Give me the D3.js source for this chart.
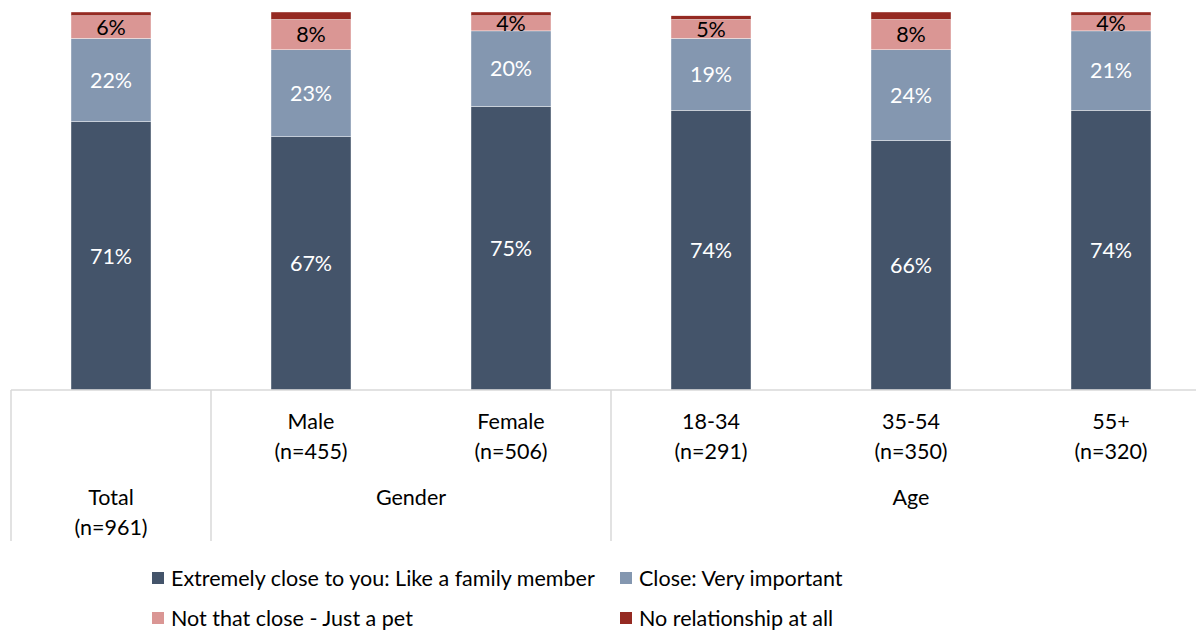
<!DOCTYPE html>
<html>
<head>
<meta charset="utf-8">
<script src="https://cdn.jsdelivr.net/npm/d3@7/dist/d3.min.js"></script>
<style>
html,body{margin:0;padding:0;background:#fff;}
svg{display:block;font-family:Lato, "Open Sans", sans-serif;}
</style>
</head>
<body>
<svg id="chart" width="1196" height="632"></svg>
<script>
const categories = ["Total", "Male", "Female", "18-34", "35-54", "55+"];
const sampleSizes = ["(n=961)", "(n=455)", "(n=506)", "(n=291)", "(n=350)", "(n=320)"];
const groups = [
  {name: "", members: ["Total"]},
  {name: "Gender", members: ["Male", "Female"]},
  {name: "Age", members: ["18-34", "35-54", "55+"]}
];
const seriesNames = ["Extremely close to you: Like a family member", "Close: Very important", "Not that close - Just a pet", "No relationship at all"];
const extremelyCloseVals = [71, 67, 75, 74, 66, 74];
const closeVals = [22, 23, 20, 19, 24, 21];
const notThatCloseVals = [6, 8, 4, 5, 8, 4];
const noRelationshipVals = [1, 2, 1, 1, 2, 1];
const colors = ["#44546A", "#8497B0", "#DA9694", "#952A22"];
const labelColors = ["#ffffff", "#ffffff", "#000000", null];

const FS = 21.5;
const svg = d3.select("#chart");
const plotLeft = 11, plotRight = 1211, plotTop = 12, plotBase = 390, axisBottom = 541;

const x = d3.scaleBand().domain(categories).range([plotLeft, plotRight]).paddingInner(0.6).paddingOuter(0.3);
const y = d3.scaleLinear().domain([0, 100]).range([plotBase, plotTop]);

const seriesVals = [extremelyCloseVals, closeVals, notThatCloseVals, noRelationshipVals];
const rows = categories.map((c, i) => {
  const r = {cat: c};
  seriesNames.forEach((s, k) => r[s] = seriesVals[k][i]);
  return r;
});
const stack = d3.stack().keys(seriesNames)(rows);

const layers = svg.append("g").selectAll("g").data(stack).join("g")
  .attr("fill", (d, k) => colors[k]);
layers.selectAll("rect").data(d => d).join("rect")
  .attr("x", d => x(d.data.cat))
  .attr("width", x.bandwidth())
  .attr("y", d => y(d[1]))
  .attr("height", d => y(d[0]) - y(d[1]))
  .attr("stroke", "#ffffff").attr("stroke-width", 0.4);

// labels
stack.forEach((layer, k) => {
  if (!labelColors[k]) return;
  svg.append("g").selectAll("text").data(layer).join("text")
    .attr("x", d => x(d.data.cat) + x.bandwidth() / 2)
    .attr("y", d => (y(d[0]) + y(d[1])) / 2)
    .attr("dy", "0.36em")
    .attr("text-anchor", "middle")
    .attr("font-size", FS)
    .attr("fill", labelColors[k])
    .text(d => (d[1] - d[0]) + "%");
});

// axis box
const axisColor = "#d9d9d9";
const ax = svg.append("g");
ax.append("line").attr("x1", plotLeft).attr("x2", plotRight).attr("y1", plotBase).attr("y2", plotBase)
  .attr("stroke", axisColor).attr("stroke-width", 1.5);
const step = x.step();
let boundaries = [plotLeft];
let acc = plotLeft;
groups.forEach(g => { acc += g.members.length * step; boundaries.push(acc); });
boundaries.forEach(b => {
  ax.append("line").attr("x1", b).attr("x2", b).attr("y1", plotBase).attr("y2", axisBottom)
    .attr("stroke", axisColor).attr("stroke-width", 1.5);
});

// category labels
categories.forEach((c, i) => {
  const cx = x(c) + x.bandwidth() / 2;
  const isTotal = c === "Total";
  const y1 = isTotal ? 497 : 421;
  const t = ax.append("text").attr("x", cx).attr("text-anchor", "middle")
    .attr("font-size", FS).attr("fill", "#000");
  t.append("tspan").attr("x", cx).attr("y", y1).attr("dy", "0.36em").text(c);
  t.append("tspan").attr("x", cx).attr("y", y1 + 30).attr("dy", "0.36em").text(sampleSizes[i]);
});
groups.forEach((g, gi) => {
  if (!g.name) return;
  const cx = (boundaries[gi] + boundaries[gi + 1]) / 2;
  ax.append("text").attr("x", cx).attr("y", 497).attr("dy", "0.36em")
    .attr("text-anchor", "middle").attr("font-size", FS).attr("fill", "#000").text(g.name);
});

// legend
const legendPos = [[152, 578], [620, 578], [152, 618], [620, 618]];
seriesNames.forEach((s, k) => {
  const [lx, ly] = legendPos[k];
  const g = svg.append("g");
  g.append("rect").attr("x", lx).attr("y", ly - 6).attr("width", 12).attr("height", 12).attr("fill", colors[k]);
  g.append("text").attr("x", lx + 19).attr("y", ly).attr("dy", "0.36em")
    .attr("font-size", FS).attr("fill", "#000").text(s);
});
</script>
</body>
</html>
